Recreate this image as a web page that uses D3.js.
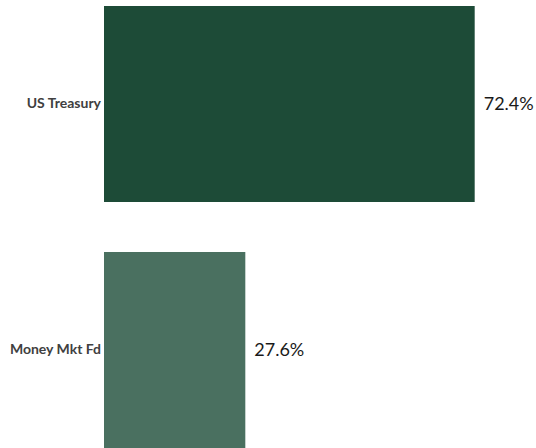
<!DOCTYPE html>
<html><head><meta charset="utf-8">
<script src="https://cdn.jsdelivr.net/npm/d3@7"></script>
<style>body{margin:0;background:#fff}svg{display:block}</style>
</head><body>
<div id="chart"></div>
<script>
const categories = ["US Treasury", "Money Mkt Fd"];
const values = [72.4, 27.6];
const colors = ["#1d4b37", "#4a7060"];
const valueLabels = ["72.4%", "27.6%"];

const W = 536, H = 448;
const svg = d3.select("#chart").append("svg").attr("width", W).attr("height", H);

const x = d3.scaleLinear().domain([0, 100]).range([104, 104 + 512]);
const y = d3.scaleBand().domain(categories).range([6, 448]).paddingInner(50/246).paddingOuter(0);

svg.selectAll("rect.bar").data(categories).join("rect")
  .attr("class", "bar")
  .attr("x", x(0))
  .attr("y", d => y(d))
  .attr("width", (d, i) => x(values[i]) - x(0))
  .attr("height", y.bandwidth())
  .attr("fill", (d, i) => colors[i]);

const yAxis = d3.axisLeft(y).tickSize(0).tickPadding(3);
const g = svg.append("g").attr("transform", `translate(${x(0)},0)`).call(yAxis);
g.select(".domain").remove();
g.selectAll("text").attr("font-family", "Lato, 'Open Sans', sans-serif")
  .attr("font-size", 14).attr("font-weight", "bold").attr("fill", "#404040");

svg.selectAll("text.val").data(categories).join("text")
  .attr("class", "val")
  .attr("x", (d, i) => x(values[i]) + 9)
  .attr("y", d => y(d) + y.bandwidth() / 2)
  .attr("dy", "0.35em")
  .attr("font-family", "Lato, 'Open Sans', sans-serif")
  .attr("font-size", 18)
  .attr("fill", "#1a1a1a")
  .text((d, i) => valueLabels[i]);
</script>
</body></html>
